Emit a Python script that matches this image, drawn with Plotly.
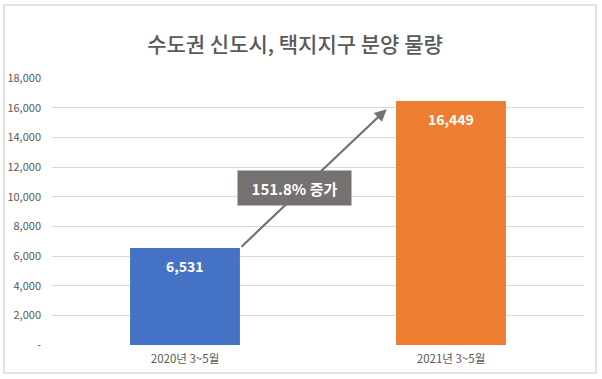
import plotly.graph_objects as go

categories = ["2020년 3~5월", "2021년 3~5월"]
values = [6531, 16449]
bar_colors = ["#4472C4", "#ED7D31"]
y_tickvals = [0, 2000, 4000, 6000, 8000, 10000, 12000, 14000, 16000, 18000]
y_ticktext = ["-", "2,000", "4,000", "6,000", "8,000", "10,000", "12,000", "14,000", "16,000", "18,000"]
title_text = "수도권 신도시, 택지지구 분양 물량"
growth_label = "151.8% 증가"

W, H = 602, 379
ml, mr, mt, mb = 52, 18, 78, 34
pw, ph = W - ml - mr, H - mt - mb

font = "Noto Sans CJK KR"

fig = go.Figure()
fig.add_trace(go.Bar(
    x=[0, 1], y=values, marker=dict(color=bar_colors, line=dict(width=0)),
    width=0.413, hoverinfo="skip",
))

annotations = []
for i, v in enumerate(values):
    annotations.append(dict(
        x=i, y=v, xref="x", yref="y", text=f"<b>{v:,}</b>", showarrow=False,
        yanchor="middle", yshift=-18, font=dict(family=font, size=14, color="white"),
    ))

# growth arrow
annotations.append(dict(
    x=0.758, y=15900, ax=0.2065, ay=values[0], xref="x", yref="y", axref="x", ayref="y",
    text="", showarrow=True, arrowhead=2, arrowsize=1.1, arrowwidth=2.2, arrowcolor="#767171",
    standoff=0, startstandoff=0,
))
annotations.append(dict(
    x=0.412, y=10590, xref="x", yref="y", text=f"<b>{growth_label}</b>", showarrow=False,
    bgcolor="#767171", borderpad=7, width=99, height=20, align="center",
    font=dict(family=font, size=15, color="white"),
))

def px2paper_x(px):
    return (px - ml) / pw

def px2paper_y(py):
    return (H - mb - py) / ph

shapes = [dict(
    type="rect", xref="paper", yref="paper",
    x0=px2paper_x(4), x1=px2paper_x(596), y0=px2paper_y(373), y1=px2paper_y(5),
    line=dict(color="#D9D9D9", width=1.5), fillcolor="rgba(0,0,0,0)", layer="above",
)]

fig.update_layout(
    width=W, height=H,
    margin=dict(l=ml, r=mr, t=mt, b=mb, autoexpand=False),
    paper_bgcolor="white", plot_bgcolor="white",
    showlegend=False,
    title=dict(text=title_text, x=295 / W, xref="container", xanchor="center", y=1 - 45 / H,
               yref="container", yanchor="middle",
               font=dict(family=font, size=21, color="#595959", weight=500)),
    xaxis=dict(
        range=[-0.5, 1.5], tickvals=[0, 1], ticktext=categories, showgrid=False, zeroline=False,
        showline=False, ticks="", ticklabelstandoff=5,
        tickfont=dict(family=font, size=11.5, color="#595959"),
        fixedrange=True,
    ),
    yaxis=dict(
        range=[0, 18000], tickvals=y_tickvals, ticktext=y_ticktext, showgrid=True,
        gridcolor="#D9D9D9", gridwidth=1, zeroline=False, showline=False, ticks="",
        ticklabelstandoff=10,
        tickfont=dict(family=font, size=11, color="#595959"), fixedrange=True,
    ),
    annotations=annotations,
    shapes=shapes,
)

fig.write_html("out.html", config={"displayModeBar": False},
               post_script="document.body.style.margin='0';document.body.style.overflow='hidden';")
